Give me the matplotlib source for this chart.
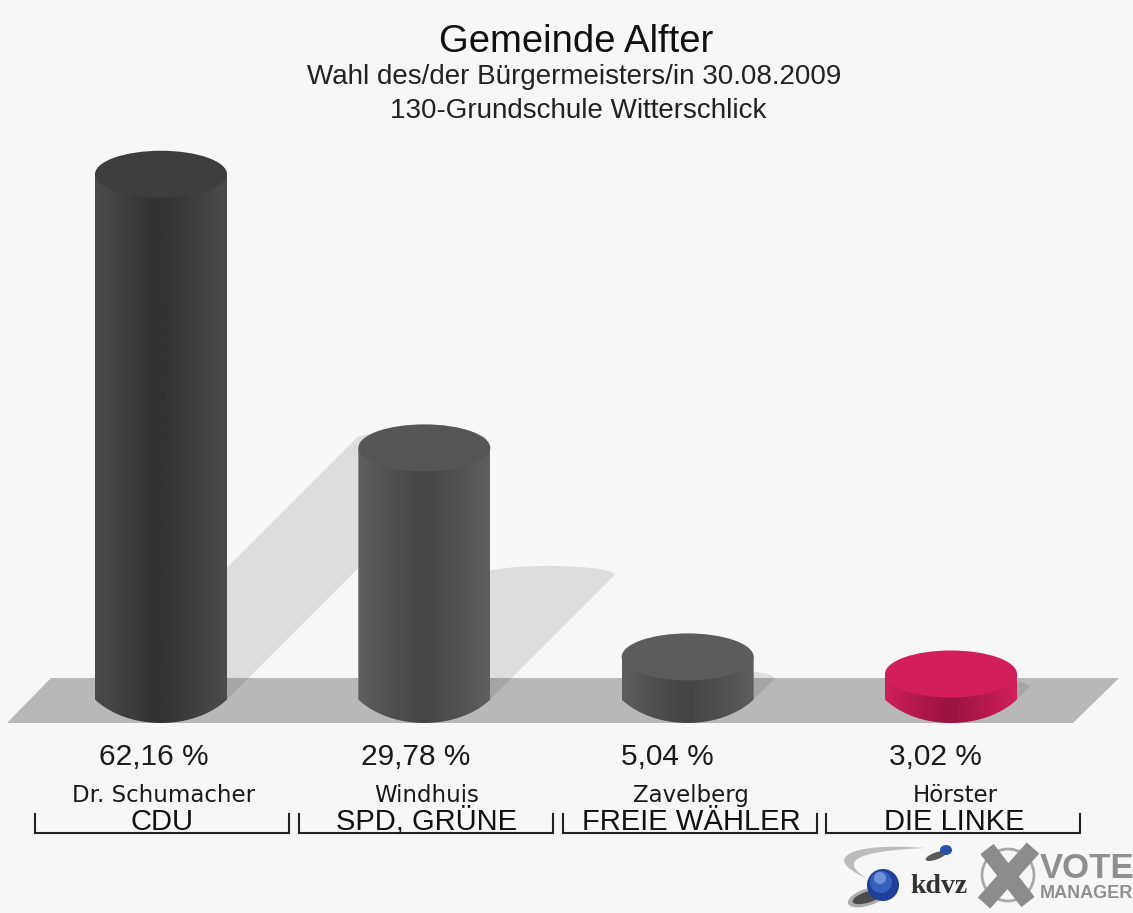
import numpy as np
import matplotlib
matplotlib.use('Agg')
import matplotlib.pyplot as plt
from matplotlib.colors import to_rgb
from matplotlib.patches import Polygon, Ellipse, Circle, PathPatch
from matplotlib.path import Path

plt.rcParams['font.family'] = ['Liberation Sans', 'DejaVu Sans']

candidates = ['Dr. Schumacher', 'Windhuis', 'Zavelberg', 'Hörster']
parties = ['CDU', 'SPD, GRÜNE', 'FREIE WÄHLER', 'DIE LINKE']
values = [62.16, 29.78, 5.04, 3.02]
value_labels = ['62,16 %', '29,78 %', '5,04 %', '3,02 %']
title = 'Gemeinde Alfter'
subtitle = 'Wahl des/der Bürgermeisters/in 30.08.2009'
subtitle2 = '130-Grundschule Witterschlick'

top_colors = ['#3e3e3e', '#565656', '#5c5c5c', '#d21e5a']
edge_colors = ['#4b4b4b', '#5f5f5f', '#5e5e5e', '#d0205c']
mid_colors = ['#333333', '#464646', '#444444', '#9c1240']

W, H = 1133, 913
BG = '#f7f7f7'
x0, x_step = 161.0, 263.33     # pixels: first bar centre, bar spacing
y0, y_scale = 699.5, 8.45      # pixels: zero line, pixels per percent
half_w = 66 / x_step
half_h = 23.5 / y_scale

fig = plt.figure(figsize=(W / 100, H / 100), dpi=100, facecolor=BG)

# background axes in pixels, y pointing down
bg = fig.add_axes([0, 0, 1, 1])
bg.set_xlim(0, W)
bg.set_ylim(H, 0)
bg.axis('off')

# chart axes: x = category index, y = percent
ax = fig.add_axes([0, 0, 1, 1], facecolor='none')
xlim = (-x0 / x_step, (W - x0) / x_step)
ylim = (-(H - y0) / y_scale, y0 / y_scale)
ax.axis('off')

# floor
bg.add_patch(Polygon([(7, 723), (51, 678), (1119, 678), (1073, 723)], fc='#b8b8b8', ec='none'))

t = np.linspace(0, np.pi, 80)

# shadows go first so they sit behind every bar
for i, v in enumerate(values):
    shift = v * y_scale * 0.495
    dx = shift / x_step
    dy = shift / y_scale
    cap_x = i + dx + half_w * np.cos(t)
    cap_y = dy + (9 / y_scale) * np.sin(t)
    xs = np.r_[i + half_w, cap_x, i - half_w]
    ys = np.r_[0, cap_y, 0]
    ax.add_patch(Polygon(np.c_[xs, ys], fc='black', alpha=0.1, ec='none', zorder=1))

# cylinders, the bottom edge is a flat arc that meets the sides at an angle
u = np.linspace(-1, 1, 80)
for i, v in enumerate(values):
    arc_y = -2.5 * half_h * (np.sqrt(1 - (u / 1.25) ** 2) - 0.6)
    xs = np.r_[i - half_w, i + half_w * u, i + half_w]
    ys = np.r_[v, arc_y, v]
    body = Polygon(np.c_[xs, ys], fc='none', ec='none', transform=ax.transData)
    ax.add_patch(body)

    pos = np.linspace(0, 1, 256)
    c_edge = np.array(to_rgb(edge_colors[i]))
    c_mid = np.array(to_rgb(mid_colors[i]))
    grad = np.stack([np.interp(pos, [0, 0.45, 0.52, 1], [c_edge[k], c_mid[k], c_mid[k], c_edge[k]])
                     for k in range(3)], axis=-1)[np.newaxis, :, :]
    im = ax.imshow(grad, extent=(i - half_w, i + half_w, -half_h, v), aspect='auto',
                   origin='lower', zorder=2, interpolation='bilinear')
    im.set_clip_path(body)

    ax.add_patch(Ellipse((i, v), 2 * half_w, 2 * half_h, fc=top_colors[i], ec='none', zorder=3))

ax.set_xlim(xlim)
ax.set_ylim(ylim)

# titles
bg.text(576, 52, title, ha='center', va='baseline', fontsize=27.5, color='#111111')
bg.text(574, 84, subtitle, ha='center', va='baseline', fontsize=20, color='#222222')
bg.text(578, 118, subtitle2, ha='center', va='baseline', fontsize=20, color='#222222')

# labels under the bars
value_x = [154, 416, 667, 935]
name_x = [164, 427, 691, 955]
party_x = [162, 427, 691, 954]
bracket_x = [(35, 289), (299, 553), (563, 817), (826, 1080)]
for i in range(4):
    bg.text(value_x[i], 765, value_labels[i], ha='center', va='baseline', fontsize=21.5, color='#1a1a1a')
    bg.text(name_x[i], 802, candidates[i], ha='center', va='baseline', fontsize=16.5,
            family='DejaVu Sans', color='#1a1a1a')
    bg.text(party_x[i], 830, parties[i], ha='center', va='baseline', fontsize=21, color='#111111')
    a, b = bracket_x[i]
    bg.plot([a, a, b, b], [814, 833, 833, 814], color='#222222', lw=1.5, solid_joinstyle='miter')

# kdvz logo
swoosh = Path([(925, 848), (850, 842), (820, 858), (866, 878), (848, 866), (838, 852), (925, 848)],
              [Path.MOVETO, Path.CURVE4, Path.CURVE4, Path.CURVE4, Path.CURVE4, Path.CURVE4, Path.CURVE4])
bg.add_patch(PathPatch(swoosh, fc='#bcbcbc', ec='none'))
bg.add_patch(Ellipse((868, 897), 42, 17, angle=-18, fc='#222222', ec='none', alpha=0.35))
bg.add_patch(Ellipse((868, 897), 32, 11, angle=-18, fc='#222222', ec='none', alpha=0.7))
bg.add_patch(Ellipse((936, 856), 22, 7, angle=-20, fc='#333333', ec='none', alpha=0.8))
bg.add_patch(Circle((883, 885), 16, fc='#1f3f98', ec='none'))
bg.add_patch(Circle((881, 882), 11, fc='#3560bb', ec='none'))
bg.add_patch(Circle((880, 878), 6, fc='#6f93d8', ec='none'))
bg.add_patch(Ellipse((946, 850), 12, 10, fc='#2a4fa8', ec='none'))
bg.text(939, 893, 'kdvz', ha='center', va='baseline', fontsize=20, fontweight='bold',
        family='Liberation Serif', color='#333333')

# vote manager logo
bg.add_patch(Circle((1008, 875), 26, fc='none', ec='#a8a8a8', lw=2))
bg.plot([987, 1028], [849, 902], color='#8c8c8c', lw=12, solid_capstyle='butt')
bg.plot([1033, 984], [848, 903], color='#8c8c8c', lw=12, solid_capstyle='butt')
bg.text(1040, 878, 'VOTE', ha='left', va='baseline', fontsize=25, fontweight='bold', color='#8f8f8f')
bg.text(1040, 898, 'MANAGER', ha='left', va='baseline', fontsize=13, fontweight='bold', color='#8f8f8f')

plt.savefig('out.png', dpi=100, facecolor=BG)
